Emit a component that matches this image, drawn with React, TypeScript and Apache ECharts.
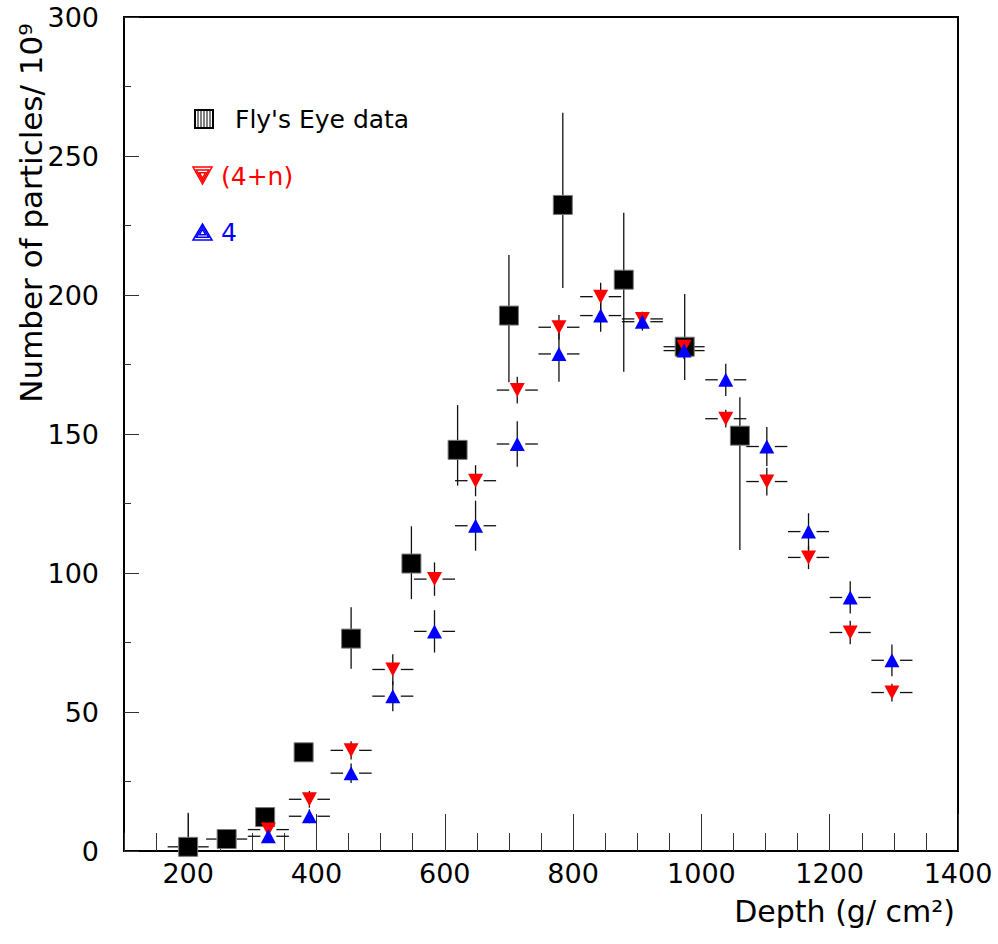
import React, { useEffect, useRef } from "react";
import * as echarts from "echarts";

// Fly's Eye data (black squares)
const depthFly = [200, 260, 320, 380, 454, 548, 620, 700, 784, 879, 974, 1060];
const flyValues = [1.5, 4.3, 12.2, 35.5, 76.4, 103.4, 144.3, 192.6, 232.4, 205.5, 181.4, 149.4];
const flyErrUp = [12.3, 0, 0, 0, 11.3, 13.4, 16.1, 21.8, 33.2, 24.1, 19, 13.8];
const flyErrDown = [1.5, 0, 0, 0, 10.8, 12.8, 12.9, 24, 29.9, 33.1, 12, 41.1];
const flyErrX = [32, 32, 0, 0, 0, 0, 0, 0, 0, 0, 0, 0];

// Simulations
const depthSim = [325, 389, 454, 519, 584, 648, 713, 778, 843, 908, 973, 1038, 1102, 1167, 1232, 1297];
const simErrX = 32;
const red4n = [7.7, 18.6, 36.2, 65.3, 97.8, 133.2, 165.8, 188.4, 199.4, 191.4, 181.4, 155.5, 132.9, 105.6, 78.6, 57];
const red4nErr = [1.5, 3, 3.3, 5.5, 6, 5.6, 4.8, 4.4, 5, 2.6, 3, 3.2, 5, 4.2, 4.2, 3.2];
const blue4 = [5.3, 12.5, 28, 55.7, 79, 117, 146.4, 178.8, 192.6, 190.4, 180, 169.5, 145.5, 114.9, 91.2, 68.6];
const blue4Err = [1.5, 2.5, 3.5, 5.4, 7.6, 9, 8.2, 10, 5.8, 3.2, 3, 5.8, 7, 6.6, 5.8, 5.7];

const legendLabels = ["Fly's Eye data", "(4+n)", "4"];
const xTitle = "Depth (g/ cm²)";
const yTitle = "Number of particles/ 10⁹";

const FONT = "DejaVu Sans";

function errorRenderer(gap: number) {
  return (params: any, api: any) => {
    const x = api.value(0);
    const y = api.value(1);
    const xe = api.value(2);
    const lo = api.value(3);
    const hi = api.value(4);
    const c = api.coord([x, y]);
    const children: any[] = [];
    const style = { stroke: "#111", lineWidth: 1.3 };
    if (lo > 0 || hi > 0) {
      const top = api.coord([x, y + hi]);
      const bot = api.coord([x, Math.max(0, y - lo)]);
      children.push({ type: "line", shape: { x1: c[0], y1: top[1], x2: c[0], y2: bot[1] }, style });
    }
    if (xe > 0) {
      const l = api.coord([x - xe, y]);
      const r = api.coord([x + xe, y]);
      children.push({ type: "line", shape: { x1: l[0], y1: c[1], x2: c[0] - gap, y2: c[1] }, style });
      children.push({ type: "line", shape: { x1: c[0] + gap, y1: c[1], x2: r[0], y2: c[1] }, style });
    }
    return { type: "group", children };
  };
}

function nestedTriangles(cx: number, cy: number, w: number, h: number, down: boolean, color: string) {
  const out: any[] = [];
  [1, 0.66, 0.33].forEach((s) => {
    const hw = (w / 2) * s;
    const hh = (h / 2) * s;
    const pts = down
      ? [[cx - hw, cy - hh], [cx + hw, cy - hh], [cx, cy + hh]]
      : [[cx - hw, cy + hh], [cx + hw, cy + hh], [cx, cy - hh]];
    out.push({ type: "polygon", shape: { points: pts }, style: { fill: "none", stroke: color, lineWidth: 1.5 } });
  });
  return out;
}

export default function App() {
  const ref = useRef<HTMLDivElement>(null);
  useEffect(() => {
    const chart = echarts.init(ref.current!, null, { renderer: "svg" });
    const sqHatch = [198, 201, 204, 207, 210].map((x) => ({
      type: "line",
      shape: { x1: x, y1: 111, x2: x, y2: 127 },
      style: { stroke: "#000", lineWidth: 1 },
    }));
    const option: any = {
      animation: false,
      backgroundColor: "#fff",
      grid: [
        { left: 124, right: 40, top: 17, bottom: 93, show: true, borderColor: "#000", borderWidth: 2, backgroundColor: "transparent" },
        { left: 188.15, right: 40, top: 17, bottom: 93 },
      ],
      xAxis: [
        {
          gridIndex: 0, type: "value", min: 100, max: 1400, interval: 50,
          axisLine: { show: true, onZero: false, lineStyle: { color: "#000", width: 2 } },
          axisTick: { show: true, inside: true, length: 18, lineStyle: { color: "#333", width: 1 } },
          axisLabel: { show: false },
          splitLine: { show: false },
        },
        {
          gridIndex: 1, type: "value", min: 200, max: 1400, interval: 200,
          axisLine: { show: false },
          axisTick: { show: true, inside: true, length: 37, lineStyle: { color: "#333", width: 1 } },
          axisLabel: { show: true, fontSize: 27, fontFamily: FONT, color: "#000", margin: 9, formatter: (v: number) => String(v) },
          splitLine: { show: false },
        },
      ],
      yAxis: [
        {
          gridIndex: 0, type: "value", min: 0, max: 300, interval: 50,
          axisLine: { show: true, lineStyle: { color: "#000", width: 2 } },
          axisTick: { show: true, inside: true, length: 15, lineStyle: { color: "#333", width: 1 } },
          minorTick: { show: true, splitNumber: 2, length: 7, lineStyle: { color: "#333", width: 1 } },
          axisLabel: { fontSize: 27, fontFamily: FONT, color: "#000", margin: 25, formatter: (v: number) => String(v) },
          splitLine: { show: false },
        },
        { gridIndex: 1, type: "value", min: 0, max: 300, show: false },
      ],
      graphic: [
        { type: "rect", shape: { x: 195, y: 110, width: 18, height: 18 }, style: { fill: "#fff", stroke: "#000", lineWidth: 2 } },
        ...sqHatch,
        ...nestedTriangles(202.5, 175.5, 19, 17, true, "#ff0000"),
        ...nestedTriangles(202.5, 232, 19, 16, false, "#0000ff"),
        { type: "text", x: 235, y: 119, style: { text: legendLabels[0], font: `25px "${FONT}"`, fill: "#000", verticalAlign: "middle", align: "left" } },
        { type: "text", x: 221, y: 176, style: { text: legendLabels[1], font: `25px "${FONT}"`, fill: "#ff0000", verticalAlign: "middle", align: "left" } },
        { type: "text", x: 221, y: 232, style: { text: legendLabels[2], font: `25px "${FONT}"`, fill: "#0000ff", verticalAlign: "middle", align: "left" } },
        { type: "text", x: 955, y: 911, style: { text: xTitle, font: `30px "${FONT}"`, fill: "#000", verticalAlign: "middle", align: "right" } },
        { type: "text", x: 31, y: 213, rotation: Math.PI / 2, style: { text: yTitle, font: `31px "${FONT}"`, fill: "#000", verticalAlign: "middle", align: "center" } },
      ],
      series: [
        {
          type: "custom", xAxisIndex: 0, yAxisIndex: 0, z: 1,
          renderItem: errorRenderer(10),
          data: depthFly.map((x, i) => [x, flyValues[i], flyErrX[i], flyErrDown[i], flyErrUp[i]]),
          encode: { x: 0, y: 1 },
        },
        {
          type: "custom", xAxisIndex: 0, yAxisIndex: 0, z: 1,
          renderItem: errorRenderer(8),
          data: depthSim.map((x, i) => [x, red4n[i], simErrX, red4nErr[i], red4nErr[i]]),
          encode: { x: 0, y: 1 },
        },
        {
          type: "custom", xAxisIndex: 0, yAxisIndex: 0, z: 1,
          renderItem: errorRenderer(8),
          data: depthSim.map((x, i) => [x, blue4[i], simErrX, blue4Err[i], blue4Err[i]]),
          encode: { x: 0, y: 1 },
        },
        {
          type: "scatter", name: legendLabels[0], xAxisIndex: 0, yAxisIndex: 0, z: 2,
          symbol: "rect", symbolSize: 19,
          itemStyle: { color: "#000", borderColor: "#777", borderWidth: 1, opacity: 1 },
          data: depthFly.map((x, i) => [x, flyValues[i]]),
        },
        {
          type: "scatter", name: legendLabels[1], xAxisIndex: 0, yAxisIndex: 0, z: 3,
          symbol: "triangle", symbolRotate: 180, symbolSize: [15, 14],
          itemStyle: { color: "#ff0000", opacity: 1 },
          data: depthSim.map((x, i) => [x, red4n[i]]),
        },
        {
          type: "scatter", name: legendLabels[2], xAxisIndex: 0, yAxisIndex: 0, z: 4,
          symbol: "triangle", symbolSize: [15, 14],
          itemStyle: { color: "#0000ff", opacity: 1 },
          data: depthSim.map((x, i) => [x, blue4[i]]),
        },
      ],
    };
    chart.setOption(option);
    return () => chart.dispose();
  }, []);
  return <div ref={ref} style={{ position: "fixed", left: 0, top: 0, width: 998, height: 944, background: "#fff" }} />;
}
